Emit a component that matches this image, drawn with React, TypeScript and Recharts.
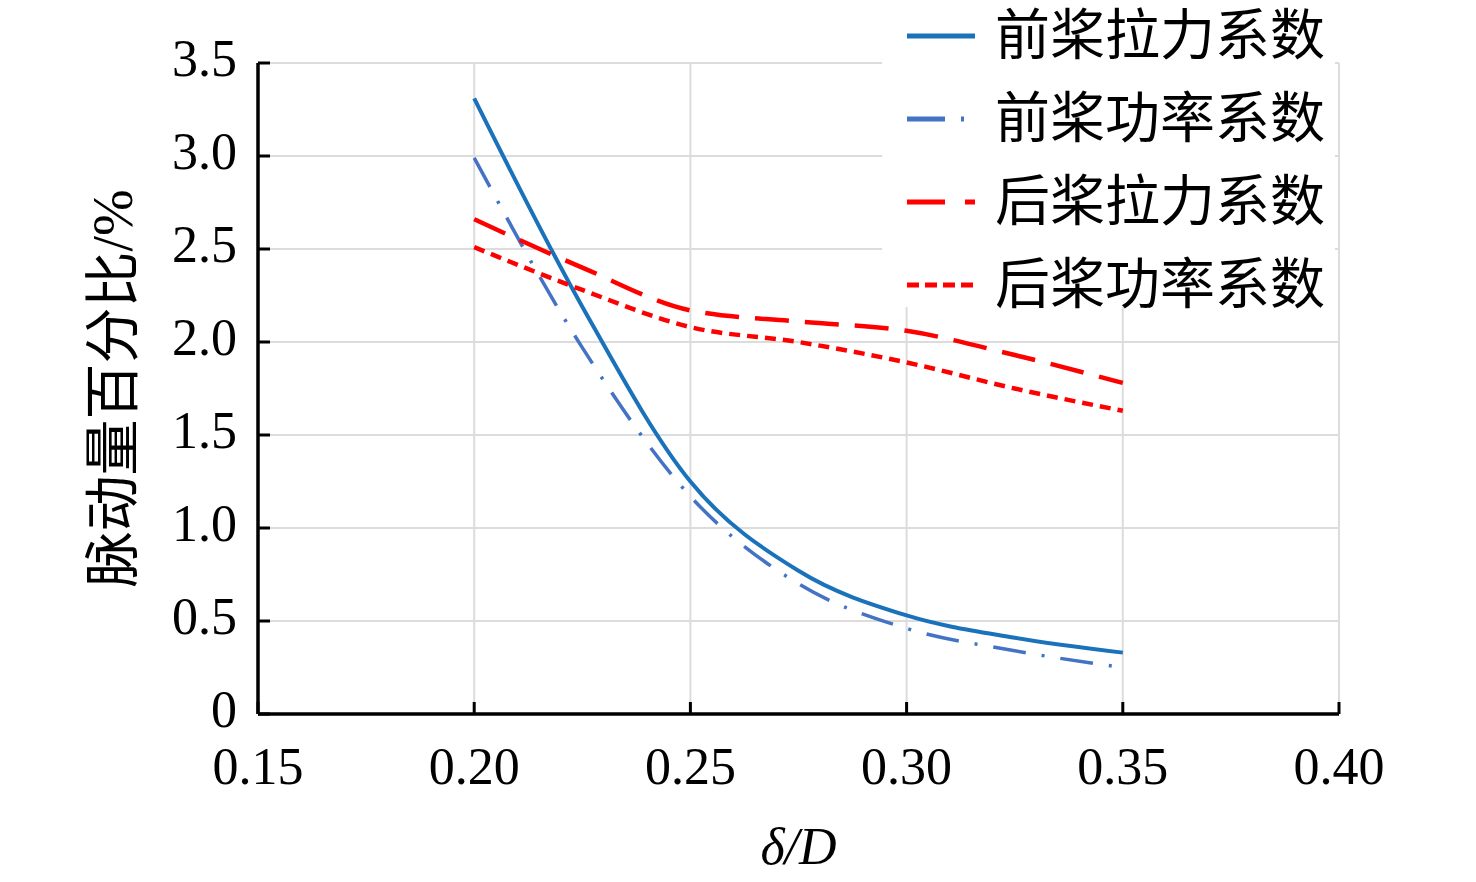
import React from "react"
import { LineChart, Line, XAxis, YAxis, CartesianGrid, Legend, Label } from "recharts"

const xValues = [0.2, 0.225, 0.25, 0.275, 0.3, 0.325, 0.35]
const frontThrust = [3.31, 2.19, 1.25, 0.77, 0.53, 0.41, 0.33]
const frontPower = [2.99, 1.97, 1.17, 0.7, 0.46, 0.34, 0.25]
const rearThrust = [2.66, 2.4, 2.17, 2.11, 2.06, 1.93, 1.78]
const rearPower = [2.51, 2.28, 2.08, 2.0, 1.89, 1.75, 1.63]

const xTicks = [0.15, 0.2, 0.25, 0.3, 0.35, 0.4]
const yTicks = [0, 0.5, 1, 1.5, 2, 2.5, 3, 3.5]

const seriesNames = ["前桨拉力系数", "前桨功率系数", "后桨拉力系数", "后桨功率系数"]

const serif = '"Liberation Serif", "Noto Sans CJK SC", serif'

const seriesStyles = [
  { key: "ft", color: "#1a72bb", width: 4, dash: undefined, legendDash: undefined },
  { key: "fp", color: "#4472c4", width: 3.5, dash: "33 16 3 16", legendDash: "38 16 3 20" },
  { key: "rt", color: "#ff0000", width: 4.5, dash: "34 16", legendDash: "38 20 10 20" },
  { key: "rp", color: "#ff0000", width: 4.5, dash: "11 7", legendDash: "12 6" },
]

const data = xValues.map((x, i) => ({
  x,
  ft: frontThrust[i],
  fp: frontPower[i],
  rt: rearThrust[i],
  rp: rearPower[i],
}))

function LegendBox() {
  return (
    <div style={{ background: "#fff", width: 453, height: 313 }}>
      {seriesNames.map((name, i) => (
        <div key={name} style={{ display: "flex", alignItems: "center", height: 83, marginTop: i === 0 ? -6 : 0 }}>
          <svg width={113} height={20} style={{ flex: "none" }}>
            <line
              x1={25}
              x2={93}
              y1={10}
              y2={10}
              stroke={seriesStyles[i].color}
              strokeWidth={5}
              strokeDasharray={seriesStyles[i].legendDash}
            />
          </svg>
          <span style={{ fontFamily: serif, fontSize: 55, color: "#000", lineHeight: "83px", whiteSpace: "nowrap" }}>
            {name}
          </span>
        </div>
      ))}
    </div>
  )
}

export default function App() {
  return (
    <div style={{ position: "absolute", left: 0, top: 0, width: 1476, height: 882, background: "#fff" }}>
      <LineChart width={1476} height={882} data={data} margin={{ top: 63, right: 137, left: 0, bottom: 0 }}>
        <CartesianGrid stroke="#dcdcdc" strokeWidth={2} />
        <XAxis
          dataKey="x"
          type="number"
          domain={[0.15, 0.4]}
          ticks={xTicks}
          tickFormatter={(v: number) => v.toFixed(2)}
          height={168}
          axisLine={{ stroke: "#000", strokeWidth: 3.5 }}
          tickLine={{ stroke: "#000", strokeWidth: 3 }}
          tickSize={-12}
          tickMargin={45}
          tick={{ fill: "#000", fontSize: 52, fontFamily: serif }}
          interval={0}
        >
          <Label
            value="δ/D"
            position="insideBottom"
            offset={18}
            fill="#000"
            fontSize={52}
            fontFamily={serif}
            fontStyle="italic"
          />
        </XAxis>
        <YAxis
          type="number"
          domain={[0, 3.5]}
          ticks={yTicks}
          tickFormatter={(v: number) => (v === 0 ? "0" : v.toFixed(1))}
          width={258}
          axisLine={{ stroke: "#000", strokeWidth: 3.5 }}
          tickLine={{ stroke: "#000", strokeWidth: 3 }}
          tickSize={-12}
          tickMargin={33}
          tick={{ fill: "#000", fontSize: 52, fontFamily: serif, dy: -5 }}
          interval={0}
        >
          <Label
            content={(props: any) => {
              const vb = props.viewBox
              const cx = vb.x + 113
              const cy = vb.y + vb.height / 2
              return (
                <text
                  x={cx}
                  y={cy}
                  transform={`rotate(-90, ${cx}, ${cy})`}
                  textAnchor="middle"
                  dominantBaseline="central"
                  fontSize={56}
                  fontFamily={serif}
                  fill="#000"
                >
                  脉动量百分比/%
                </text>
              )
            }}
          />
        </YAxis>
        {seriesStyles.map((s, i) => (
          <Line
            key={s.key}
            type="monotone"
            dataKey={s.key}
            name={seriesNames[i]}
            stroke={s.color}
            strokeWidth={s.width}
            strokeDasharray={s.dash}
            dot={false}
            activeDot={false}
            isAnimationActive={false}
          />
        ))}
        <Legend
          layout="vertical"
          align="center"
          verticalAlign="middle"
          wrapperStyle={{ left: 882, top: 0, width: 453, height: 313 }}
          content={() => <LegendBox />}
        />
      </LineChart>
    </div>
  )
}
